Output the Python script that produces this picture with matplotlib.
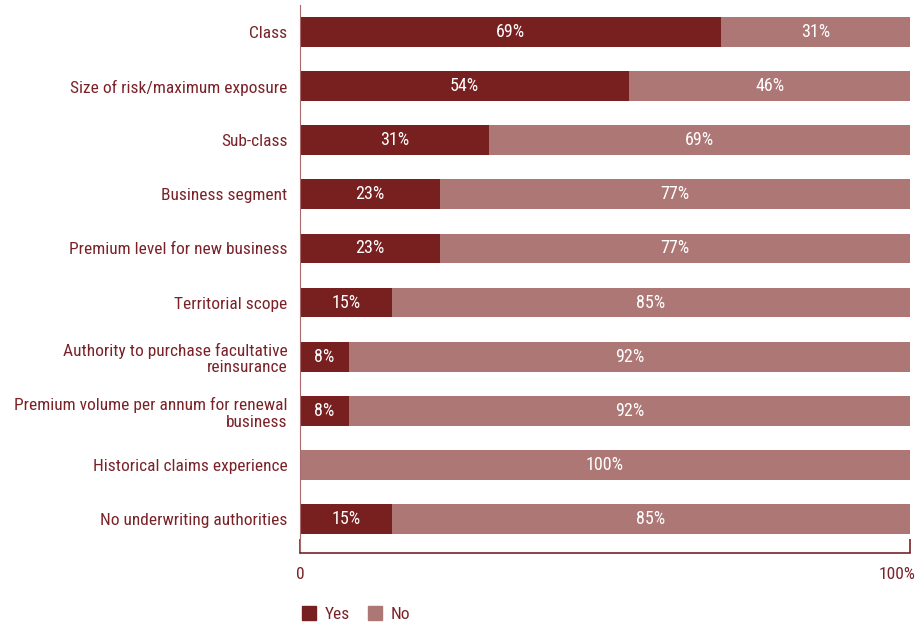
import matplotlib
matplotlib.use("Agg")
import matplotlib.pyplot as plt
from matplotlib.patches import Patch
from matplotlib.transforms import ScaledTranslation

plt.rcParams["font.family"] = ["Roboto Condensed", "DejaVu Sans"]

categories = [
    "Class",
    "Size of risk/maximum exposure",
    "Sub-class",
    "Business segment",
    "Premium level for new business",
    "Territorial scope",
    "Authority to purchase facultative\nreinsurance",
    "Premium volume per annum for renewal\nbusiness",
    "Historical claims experience",
    "No underwriting authorities",
]
yes = [69, 54, 31, 23, 23, 15, 8, 8, 0, 15]
no = [31, 46, 69, 77, 77, 85, 92, 92, 100, 85]

dark = "#781f1f"
light = "#ad7775"
text_col = "#7a2228"
fs = 12.5

fig = plt.figure(figsize=(9.18, 6.26), dpi=100)
ax = fig.add_axes([300 / 918, 1 - 553 / 626, 610 / 918, 548 / 626])

pos = list(range(len(categories)))
h = 0.55
ax.barh(pos, yes, height=h, color=dark)
ax.barh(pos, no, left=yes, height=h, color=light)

for y, a, b in zip(pos, yes, no):
    if a > 0:
        ax.text(a / 2, y, f"{a}%", ha="center", va="center", color="white", fontsize=13)
    if b > 0:
        ax.text(a + b / 2, y, f"{b}%", ha="center", va="center", color="white", fontsize=13)

ax.set_xlim(0, 100)
ax.set_ylim(9.63, -0.5)
ax.set_yticks(pos)
ax.set_yticklabels(categories, fontsize=fs, color=text_col, ha="right", linespacing=1.15)
ax.tick_params(axis="y", length=0, pad=9)
ax.set_xticks([0, 100])
ax.set_xticklabels(["0", "100%"], fontsize=fs, color=text_col)
ax.tick_params(axis="x", direction="in", length=10, color=text_col, width=1.2, pad=10)
last = ax.get_xticklabels()[1]
last.set_ha("right")
last.set_transform(last.get_transform() + ScaledTranslation(4 / 72, 0, fig.dpi_scale_trans))

for s in ["top", "right"]:
    ax.spines[s].set_visible(False)
ax.spines["left"].set_color("#a86a6a")
ax.spines["bottom"].set_color(text_col)
ax.spines["bottom"].set_linewidth(1.2)

handles = [Patch(color=dark, label="Yes"), Patch(color=light, label="No")]
leg = fig.legend(handles=handles, loc="center left", bbox_to_anchor=(286 / 918, 1 - 614 / 626),
                 ncol=2, frameon=False, fontsize=fs, handlelength=0.85, handleheight=0.85,
                 handletextpad=0.5, columnspacing=1.0)
for t in leg.get_texts():
    t.set_color(text_col)

fig.savefig("out.png", dpi=100)
